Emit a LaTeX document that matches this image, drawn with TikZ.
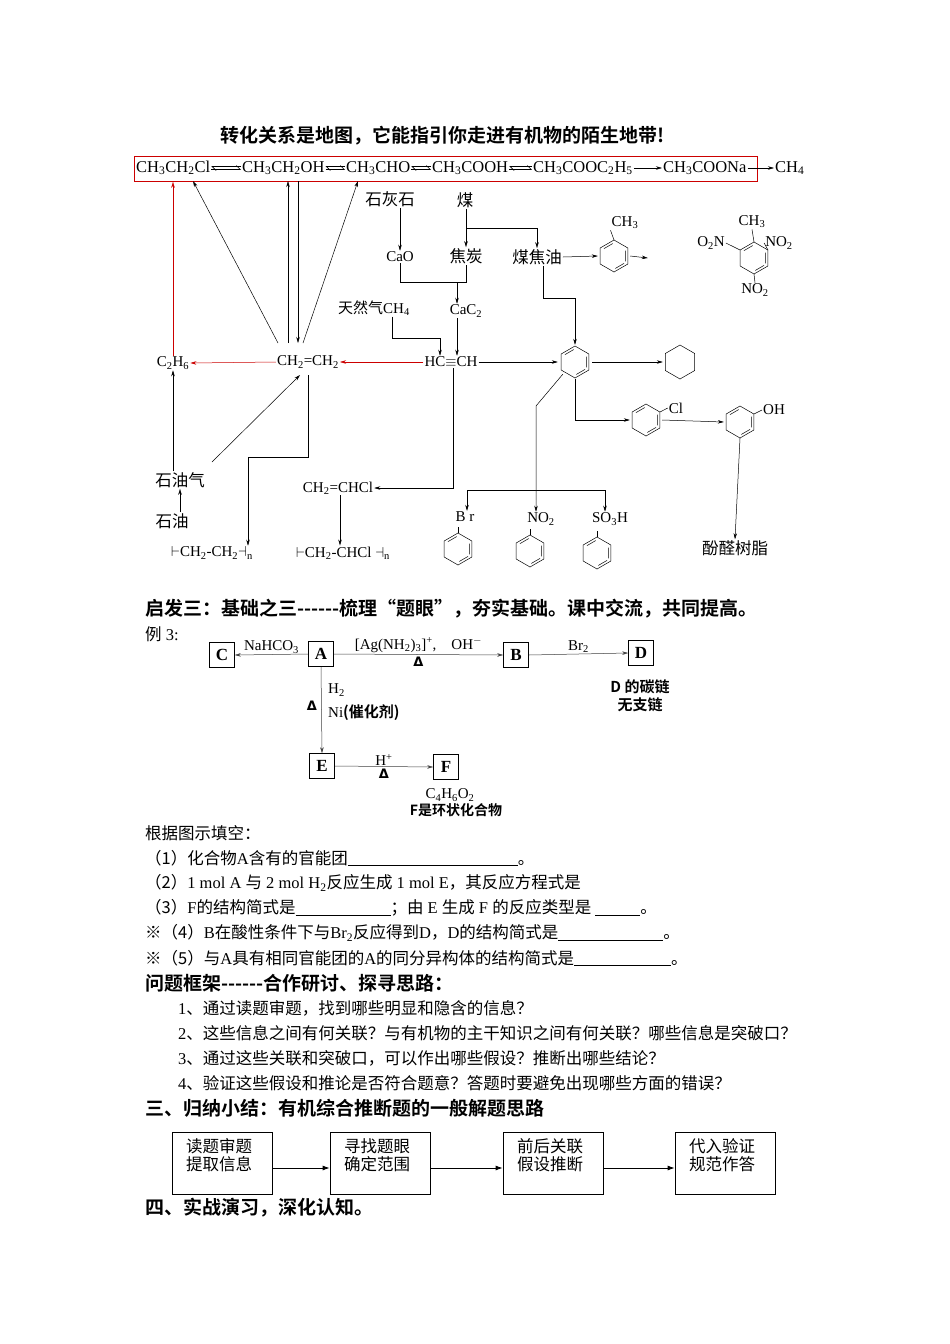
\documentclass[tikz,border=0pt]{standalone}
\usepackage{fontspec}
\setmainfont{Liberation Serif}
\newfontfamily\cjk{Noto Sans CJK SC}
\newfontfamily\cjkb{Noto Sans CJK SC Bold}
\newfontfamily\djv{DejaVu Sans}
\usetikzlibrary{arrows.meta,calc}
\newcommand\su[1]{\textsubscript{#1}}
\newcommand\spx[1]{\textsuperscript{#1}}
\newcommand\zh[1]{{\cjk #1}}
\newcommand\zb[1]{{\cjkb #1}}
\newcommand\tri{{\djv\bfseries Δ}}
\newcommand\blank[1]{\rule[-2pt]{#1pt}{0.6pt}}
\begin{document}
\begin{tikzpicture}[x=1pt,y=-1pt,
  ar/.style={-{Stealth[length=6pt,width=3.5pt]},line width=0.5pt},
  gar/.style={ar,draw=gray!50!black},
  rar/.style={ar,red!80!black},
  ln/.style={line width=0.5pt},
  harp/.style={-{Straight Barb[left,length=4pt]},line width=0.6pt},
  ch/.style={font=\fontsize{15pt}{17pt}\selectfont,inner sep=1pt,text=black},
  chT/.style={font=\fontsize{16.5pt}{18pt}\selectfont,inner sep=1pt,anchor=west},
  tx/.style={font=\fontsize{16.5pt}{18pt}\selectfont\cjk,inner sep=1pt},
  txt/.style={font=\fontsize{16.5pt}{18pt}\selectfont,inner sep=0pt,anchor=west},
  hd/.style={font=\fontsize{19pt}{21pt}\selectfont\cjkb,inner sep=0pt,anchor=west},
  lt/.style={draw,line width=0.6pt,minimum size=25pt,inner sep=0pt,font=\fontsize{17pt}{18pt}\selectfont\bfseries},
  fl/.style={draw,line width=0.8pt,minimum width=100pt,minimum height=62pt,inner sep=0pt},
  tri/.style={font=\fontsize{13pt}{14pt}\selectfont,inner sep=2pt,text=black},
  ring/.pic={\draw[line width=0.5pt] (90:16)--(30:16)--(-30:16)--(-90:16)--(-150:16)--(150:16)--cycle;
             \draw[line width=0.5pt] (84:12.5)--(36:12.5) (25:12.5)--(-25:12.5) (-96:12.5)--(-144:12.5);},
  hexa/.pic={\draw[line width=0.5pt] (90:17)--(30:17)--(-30:17)--(-90:17)--(-150:17)--(150:17)--cycle;}
]
\useasboundingbox (0,0) rectangle (950,1344);
\fill[white] (0,0) rectangle (950,1344);

% title
\node[font=\fontsize{19pt}{21pt}\selectfont\cjkb,inner sep=0pt] (title) at (443,136) {转化关系是地图，它能指引你走进有机物的陌生地带!};

% top row
\node[draw=red!80!black,line width=0.8pt,minimum width=623pt,minimum height=25pt,inner sep=0pt,anchor=north west] (redbox) at (134,156) {};
\node[chT] (t1) at (135,168) {CH\su3CH\su2Cl};
\node[chT] (t2) at (241,168) {CH\su3CH\su2OH};
\node[chT] (t3) at (345,168) {CH\su3CHO};
\node[chT] (t4) at (431,168) {CH\su3COOH};
\node[chT] (t5) at (532,168) {CH\su3COOC\su2H\su5};
\node[chT] (t6) at (662,168) {CH\su3COONa};
\node[chT] (t7) at (774,168) {CH\su4};
\foreach \a/\b in {t1/t2,t2/t3,t3/t4,t4/t5}{
  \draw[harp] ([yshift=-1.5pt]\a.east) -- ([yshift=-1.5pt]\b.west);
  \draw[harp] ([yshift=1.5pt]\b.west) -- ([yshift=1.5pt]\a.east);}
\draw[ar] (t5.east) -- (t6.west);
\draw[ar] (t6.east) -- (t7.west);

% middle nodes
\node[tx] (shh) at (390,199) {石灰石};
\node[tx] (mei) at (465,200) {煤};
\node[ch] (cao) at (400,257) {CaO};
\node[tx] (jt) at (466,256) {焦炭};
\node[tx] (mjy) at (537,257) {煤焦油};
\node[ch] (trq) at (374,308) {\zh{天然气}CH\su4};
\node[ch] (cac2) at (466,311) {CaC\su2};
\node[ch] (c2h6) at (173,363) {C\su2H\su6};
\node[ch] (eth) at (308,362) {CH\su2=CH\su2};
\node[ch] (acet) at (451,362) {HC$\equiv$CH};
\node[circle,minimum size=34pt,inner sep=0pt] (benz) at (575,362) {};
\pic at (575,362) {ring};
\node[circle,minimum size=34pt,inner sep=0pt] (cyc) at (680,362) {};
\pic at (680,362) {hexa};
\node[tx] (syq) at (180,480) {石油气};
\node[tx] (sy) at (172,521) {石油};
\node[ch] (vcl) at (338,488) {CH\su2=CHCl};
\node[ch] (pe) at (212,553) {$\vdash$CH\su2-CH\su2$\dashv$\su n};
\node[ch] (pvc) at (343,553) {$\vdash$CH\su2-CHCl $\dashv$\su n};

% toluene
\node[circle,minimum size=32pt,inner sep=0pt] (tol) at (614,256) {};
\pic at (614,256) {ring};
\node[ch] (tolme) at (625,223) {CH\su3};
\draw[ln] (614,240) -- (tolme.south west);
% TNT
\node[circle,minimum size=32pt,inner sep=0pt] (tnt) at (754,258) {};
\pic at (754,258) {ring};
\node[ch] (tntme) at (752,222) {CH\su3};
\node[ch] (tnto) at (711,243) {O\su2N};
\node[ch] (tntr) at (779,243) {NO\su2};
\node[ch] (tntb) at (755,290) {NO\su2};
\draw[ln] (754,242) -- (tntme.south);
\draw[ln] (740,250) -- (tnto.east);
\draw[ln] (768,250) -- (tntr.west);
\draw[ln] (754,274) -- (tntb.north);
% chlorobenzene, phenol
\node[circle,minimum size=32pt,inner sep=0pt] (clb) at (646,420) {};
\pic at (646,420) {ring};
\node[ch] (cl) at (676,408) {Cl};
\draw[ln] (660,412) -- (cl.west);
\node[circle,minimum size=32pt,inner sep=0pt] (phen) at (740,422) {};
\pic at (740,422) {ring};
\node[ch] (oh) at (774,410) {OH};
\draw[ln] (754,414) -- (oh.west);
\node[tx] (resin) at (735,548) {酚醛树脂};
% substituted benzenes
\node[ch] (brl) at (465,517) {B r};
\node[ch] (nol) at (541,519) {NO\su2};
\node[ch] (sol) at (610,519) {SO\su3H};
\pic at (458,549) {ring};
\pic at (530,551) {ring};
\pic at (597,553) {ring};
\draw[ln] (458,533) -- (458,527);
\draw[ln] (530,535) -- (530,529);
\draw[ln] (597,537) -- (597,531);

% red arrows
\draw[rar] (c2h6.north) -- (c2h6.north |- redbox.south);
\draw[rar] (eth.west) -- (c2h6.east);
\draw[rar] (acet.west) -- (eth.east);

% arrows to top row
\draw[ar] (278,343) -- (193,181);
\draw[ar] (288,343) -- (288,181);
\draw[ar] (298,181) -- (298,343);
\draw[ar] (303,343) -- (358,181);

% coal area
\draw[ar] (shh.south -| cao.north) -- (cao.north);
\draw[ar] (mei.south -| jt.north) -- (jt.north);
\coordinate (br1) at (466,228);
\draw[ar] (br1) -| (mjy.north);
\draw[ln] (cao.south) -- (400,282) -| (jt.south);
\draw[ar] (457,282) -- (cac2.north -| 457,0);
\draw[ar] (cac2.south -| 457,0) -- (acet.north -| 457,0);
\draw[ar] (trq.south -| 392,0) |- (440,338) -- (acet.north -| 440,0);
\draw[ar] (mjy.south -| 543,0) |- (575,298) -- (benz.north);
\draw[ar] (mjy.east) -- (tol.west);
\draw[ar] (tol.east) -- ([xshift=-90pt]tnt.west);

% benzene
\draw[ar] (acet.east) -- (benz.west);
\draw[ar] (benz.east) -- (cyc.west);
\draw[ar] (benz.south) |- (clb.west);
\draw[ar] (clb.east) -- (phen.west);
\draw[ar] (phen.south) -- (resin.north);
\draw[ar] (benz.south west) -- (536,406) -- (nol.north -| 536,0);
\draw[ln] (467,490) -- (605,490);
\draw[ar] (467,490) -- (brl.north -| 467,0);
\draw[ar] (605,490) -- (sol.north -| 605,0);

% ethylene area
\draw[ar] (syq.north -| c2h6.south) -- (c2h6.south);
\draw[ar] (sy.north -| 180,0) -- (syq.south -| 180,0);
\draw[ar] (212,462) -- (300,375);
\draw[ar] (308,375) -- (308,457) -| (pe.north -| 248,0);
\draw[ar] (acet.south -| 453,0) |- (vcl.east);
\draw[ar] (vcl.south -| 340,0) -- (pvc.north -| 340,0);

% section 2
\node[hd] (h1) at (145,609) {启发三：基础之三------梳理“题眼”，夯实基础。课中交流，共同提高。};
\node[txt] (ex) at (145,634) {\zh{例} 3:};
\node[lt] (C) at (222,655) {C};
\node[lt] (A) at (321,654) {A};
\node[lt] (B) at (516,655) {B};
\node[lt] (D) at (641,653) {D};
\node[lt] (E) at (322,766) {E};
\node[lt] (F) at (446,767) {F};
\draw[gar] (A.west) -- node[above,ch] {NaHCO\su3} (C.east);
\draw[gar] (A.east) -- node[above,ch,yshift=1pt] {[Ag(NH\su2)\su3]\spx{+},\quad OH\spx{$-$}} node[below,tri] {\tri} (B.west);
\draw[gar] (B.east) -- node[above,ch] {Br\su2} (D.west);
\node[font=\fontsize{15pt}{18pt}\selectfont\cjkb,align=center,inner sep=0pt] (dlab) at (640,696) {D 的碳链\\无支链};
\draw[gar] (A.south) -- (E.north);
\node[ch,anchor=west] (h2) at (327,690) {H\su2};
\node[tri] (dl1) at (312,706) {\tri};
\node[ch,anchor=west] (ni) at (327,713) {Ni\zb{(催化剂)}};
\draw[gar] (E.east) -- node[above,ch] {H\spx{+}} node[below,tri] {\tri} (F.west);
\node[ch] (fform) at (450,795) {C\su4H\su6O\su2};
\node[font=\fontsize{14pt}{16pt}\selectfont\cjkb,inner sep=0pt] (flab) at (456,810) {F是环状化合物};

\node[txt] (q0) at (145,833) {\zh{根据图示填空：}};
\node[txt] (q1) at (145,858) {\zh{（1）化合物}A\zh{含有的官能团}\blank{170}\zh{。}};
\node[txt] (q2) at (145,883) {\zh{（2）}1 mol A \zh{与} 2 mol H\su2\zh{反应生成} 1 mol E\zh{，其反应方程式是}};
\node[txt] (q3) at (145,908) {\zh{（3）}F\zh{的结构简式是}\blank{95}\zh{；由} E \zh{生成} F \zh{的反应类型是} \blank{45}\zh{。}};
\node[txt] (q4) at (145,933) {\zh{※（4）}B\zh{在酸性条件下与}Br\su2\zh{反应得到}D\zh{，}D\zh{的结构简式是}\blank{105}\zh{。}};
\node[txt] (q5) at (145,958) {\zh{※（5）与}A\zh{具有相同官能团的}A\zh{的同分异构体的结构简式是}\blank{97}\zh{。}};
\node[hd] (h2h) at (145,983) {问题框架------合作研讨、探寻思路：};
\node[txt] (p1) at (178,1008) {1\zh{、通过读题审题，找到哪些明显和隐含的信息？}};
\node[txt] (p2) at (178,1033) {2\zh{、这些信息之间有何关联？与有机物的主干知识之间有何关联？哪些信息是突破口？}};
\node[txt] (p3) at (178,1058) {3\zh{、通过这些关联和突破口，可以作出哪些假设？推断出哪些结论？}};
\node[txt] (p4) at (178,1083) {4\zh{、验证这些假设和推论是否符合题意？答题时要避免出现哪些方面的错误？}};
\node[hd] (h3) at (145,1108) {三、归纳小结：有机综合推断题的一般解题思路};
\node[fl] (f1) at (222,1163) {};
\node[fl] (f2) at (380,1163) {};
\node[fl] (f3) at (553,1163) {};
\node[fl] (f4) at (725,1163) {};
\node[tx,anchor=north west,align=left,font=\fontsize{16.5pt}{18pt}\selectfont\cjk] at (185,1137) {读题审题\\提取信息};
\node[tx,anchor=north west,align=left,font=\fontsize{16.5pt}{18pt}\selectfont\cjk] at (343,1137) {寻找题眼\\确定范围};
\node[tx,anchor=north west,align=left,font=\fontsize{16.5pt}{18pt}\selectfont\cjk] at (516,1137) {前后关联\\假设推断};
\node[tx,anchor=north west,align=left,font=\fontsize{16.5pt}{18pt}\selectfont\cjk] at (688,1137) {代入验证\\规范作答};
\draw[-{Latex[length=7pt,width=5pt]},line width=0.8pt] ([yshift=-5pt]f1.east) -- ([yshift=-5pt]f2.west);
\draw[-{Latex[length=7pt,width=5pt]},line width=0.8pt] ([yshift=-5pt]f2.east) -- ([yshift=-5pt]f3.west);
\draw[-{Latex[length=7pt,width=5pt]},line width=0.8pt] ([yshift=-5pt]f3.east) -- ([yshift=-5pt]f4.west);
\node[hd] (h4) at (145,1208) {四、实战演习，深化认知。};
\end{tikzpicture}
\end{document}
